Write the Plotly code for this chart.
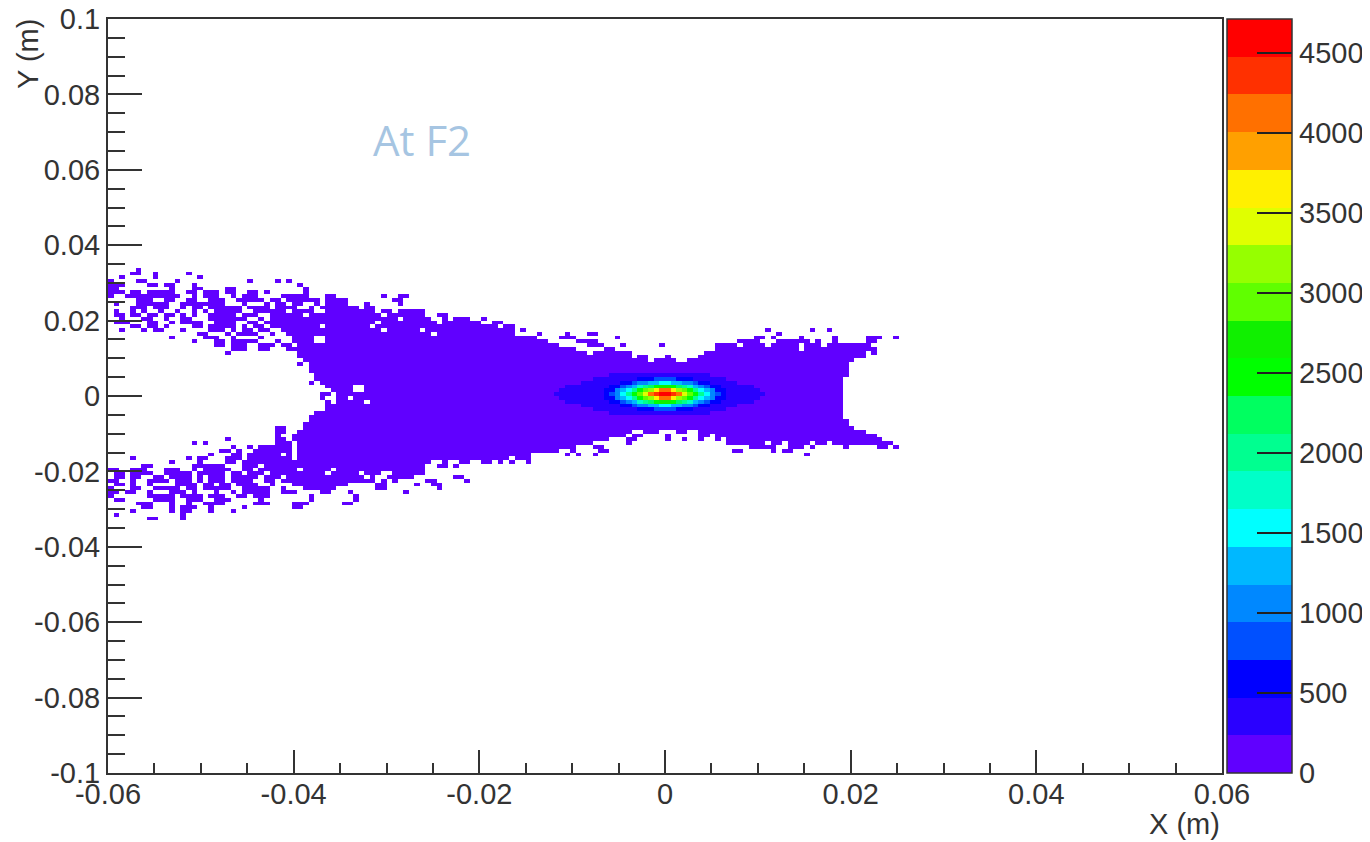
import numpy as np
import plotly.graph_objects as go

# Histogram binning (200 x 200 bins over the frame)
X_MIN, X_MAX, Y_MIN, Y_MAX = -0.06, 0.06, -0.1, 0.1
N_BINS = 200
Z_MAX = 4712
BASE_COUNT = 100

# Occupied bins: row (mm from centre) -> (first, last) x-bin spans
ROW_SPANS = {
    33: [(5, 5)],
    32: [(4, 5), (8, 8), (14, 14)],
    31: [(2, 2), (8, 8), (16, 16)],
    30: [(0, 0), (5, 6), (12, 12), (25, 25), (30, 30), (32, 32)],
    29: [(0, 2), (7, 8), (10, 11), (15, 15), (34, 34)],
    28: [(0, 1), (11, 11), (15, 16), (21, 22), (35, 35)],
    27: [(0, 2), (4, 5), (7, 11), (14, 15), (17, 19), (21, 22), (25, 26), (28, 28), (35, 35)],
    26: [(0, 0), (3, 12), (15, 15), (17, 19), (22, 22), (24, 26), (31, 35), (39, 40), (49, 49), (52, 53)],
    25: [(5, 7), (10, 11), (14, 15), (18, 20), (23, 27), (29, 30), (32, 37), (39, 42), (51, 52)],
    24: [(1, 1), (5, 10), (13, 20), (24, 24), (28, 28), (30, 31), (33, 34), (37, 37), (39, 42), (46, 46), (52, 52)],
    23: [(4, 6), (8, 10), (13, 13), (15, 16), (18, 23), (25, 28), (30, 33), (36, 36), (38, 44), (46, 47)],
    22: [(1, 1), (4, 4), (6, 6), (9, 9), (12, 12), (15, 15), (17, 17), (19, 23), (26, 31), (33, 33), (34, 36), (39, 47), (49, 50), (52, 56)],
    21: [(1, 2), (4, 5), (7, 8), (10, 11), (13, 13), (15, 15), (18, 22), (24, 26), (29, 34), (36, 48), (50, 56), (59, 60)],
    20: [(2, 2), (6, 7), (10, 10), (13, 14), (18, 23), (24, 24), (27, 27), (29, 46), (47, 51), (53, 57), (60, 60), (62, 64), (67, 67)],
    19: [(1, 3), (7, 8), (11, 11), (13, 16), (19, 22), (25, 26), (28, 47), (49, 58), (60, 66), (69, 70)],
    18: [(4, 5), (7, 8), (10, 10), (15, 16), (18, 22), (24, 24), (26, 27), (29, 37), (39, 46), (48, 69), (71, 72)],
    17: [(2, 2), (6, 6), (8, 9), (13, 13), (18, 20), (22, 22), (24, 25), (27, 28), (31, 48), (50, 55), (57, 72), (74, 74), (118, 118), (126, 126), (129, 129)],
    16: [(16, 17), (21, 21), (23, 26), (29, 29), (32, 57), (59, 72), (77, 77), (82, 82), (86, 87), (120, 120)],
    15: [(11, 11), (17, 19), (22, 22), (27, 27), (33, 36), (39, 76), (81, 83), (91, 91), (116, 117), (119, 119), (124, 124), (130, 130), (136, 138), (141, 141)],
    14: [(15, 15), (19, 20), (22, 26), (30, 30), (33, 36), (39, 78), (84, 87), (113, 116), (120, 121), (122, 123), (124, 125), (127, 127), (130, 130), (136, 137)],
    13: [(19, 20), (22, 24), (27, 29), (31, 32), (34, 80), (86, 88), (92, 92), (99, 99), (109, 112), (114, 117), (119, 123), (125, 127), (129, 136)],
    12: [(22, 24), (27, 28), (32, 33), (34, 83), (89, 90), (109, 123), (125, 136), (137, 137)],
    11: [(21, 21), (34, 85), (87, 93), (107, 135), (137, 137)],
    10: [(34, 93), (95, 96), (100, 100), (106, 135)],
    9: [(35, 96), (98, 101), (104, 133)],
    8: [(34, 34), (36, 132)],
    7: [(36, 132)],
    6: [(36, 132)],
    5: [(37, 132)],
    4: [(37, 131)],
    3: [(36, 36), (38, 131)],
    2: [(39, 43), (46, 131)],
    1: [(40, 43), (46, 131)],
    0: [(38, 39), (41, 131)],
    -1: [(38, 38), (41, 42), (44, 131)],
    -2: [(39, 39), (41, 45), (47, 131)],
    -3: [(39, 131)],
    -4: [(39, 131)],
    -5: [(37, 131)],
    -6: [(36, 131)],
    -7: [(36, 132)],
    -8: [(35, 132)],
    -9: [(30, 31), (35, 133)],
    -10: [(30, 31), (34, 93), (96, 98), (102, 103), (106, 135)],
    -11: [(30, 30), (33, 92), (94, 95), (100, 100), (106, 107), (109, 137)],
    -12: [(21, 21), (30, 31), (33, 89), (93, 94), (100, 100), (103, 103), (106, 106), (109, 109), (111, 138)],
    -13: [(15, 15), (17, 17), (30, 32), (34, 86), (93, 93), (111, 117), (119, 120), (122, 125), (127, 128), (130, 140)],
    -14: [(22, 22), (25, 25), (27, 32), (34, 83), (87, 88), (115, 119), (122, 124), (126, 126), (132, 132), (138, 139), (141, 141)],
    -15: [(20, 21), (23, 23), (26, 32), (34, 80), (83, 83), (88, 89), (112, 113), (119, 119), (121, 122)],
    -16: [(18, 18), (22, 23), (25, 30), (32, 32), (34, 75), (82, 82), (84, 84), (87, 87), (125, 125)],
    -17: [(4, 4), (14, 14), (16, 17), (21, 23), (25, 32), (34, 71), (73, 75)],
    -18: [(11, 11), (16, 16), (21, 22), (24, 57), (60, 60), (63, 64), (67, 68), (70, 70), (72, 72), (75, 75)],
    -19: [(6, 7), (15, 20), (24, 26), (28, 56), (59, 60), (62, 62)],
    -20: [(0, 1), (4, 6), (10, 12), (15, 15), (17, 21), (24, 25), (27, 33), (35, 39), (41, 56)],
    -21: [(1, 2), (4, 7), (10, 14), (16, 20), (22, 23), (25, 27), (29, 38), (40, 44), (46, 48), (51, 56)],
    -22: [(1, 2), (4, 5), (8, 9), (11, 14), (16, 16), (18, 20), (22, 26), (28, 30), (32, 45), (47, 47), (50, 54), (62, 63)],
    -23: [(0, 1), (4, 4), (7, 10), (12, 14), (16, 16), (18, 20), (22, 25), (28, 29), (31, 47), (49, 49), (51, 51), (57, 58), (64, 64)],
    -24: [(1, 2), (4, 4), (7, 7), (12, 15), (17, 18), (20, 21), (23, 26), (29, 29), (33, 42), (48, 49), (55, 55), (58, 59)],
    -25: [(0, 0), (4, 5), (8, 12), (14, 15), (17, 21), (24, 28), (31, 31), (35, 40), (48, 49), (59, 59)],
    -26: [(0, 1), (3, 4), (7, 7), (11, 13), (15, 15), (19, 19), (22, 22), (24, 28), (31, 33), (38, 39), (43, 43), (53, 53)],
    -27: [(0, 0), (7, 11), (13, 16), (18, 20), (23, 24), (26, 28), (36, 36), (44, 44)],
    -28: [(1, 2), (8, 11), (14, 16), (19, 21), (27, 27), (36, 36), (44, 44)],
    -29: [(5, 7), (11, 11), (14, 14), (17, 20), (26, 28), (33, 35), (42, 43)],
    -30: [(6, 7), (11, 11), (13, 15), (18, 18), (24, 24), (33, 34)],
    -31: [(4, 4), (11, 11), (13, 14), (18, 18), (22, 22)],
    -32: [(1, 1), (13, 13)],
    -33: [(7, 8), (13, 13)],
}

# Central peak: count level -> half-width (x bins) in rows 0, +-1, +-2 ...
CORE_LEVELS = {
    350: [18, 17, 16, 13, 11, 8],
    590: [11, 11, 10, 8, 5],
    825: [10, 9, 8, 6, 2],
    1060: [9, 9, 7, 5],
    1295: [8, 8, 6, 3],
    1530: [8, 7, 5, 1],
    1765: [7, 6, 5],
    2000: [7, 6, 4],
    2240: [6, 5, 3],
    2475: [6, 5, 2],
    2710: [5, 4, 1],
    2945: [5, 4],
    3180: [4, 3],
    3415: [4, 2],
    3650: [3, 2],
    3890: [3, 1],
    4120: [3, 1],
    4360: [2],
    4600: [1],
}
# Extra x bins on the left of a level (the outer halo leans left)
CORE_LEFT_EXTRA = {350: 2}

# Palette bands, bottom to top
BAND_COLORS = ["#6000ff", "#2a00ff", "#0000ff", "#0050ff", "#0088ff", "#00b8ff", "#00ffff",
               "#00ffc8", "#00ff90", "#00ff60", "#00ff00", "#10f000", "#60ff00", "#96ff00",
               "#e0ff00", "#fff000", "#ffa000", "#ff7000", "#ff3000", "#ff0000"]

X_TICKS = [-0.06, -0.04, -0.02, 0, 0.02, 0.04, 0.06]
X_LABELS = ["-0.06", "-0.04", "-0.02", "0", "0.02", "0.04", "0.06"]
X_MINOR = [-0.055, -0.05, -0.045, -0.035, -0.03, -0.025, -0.015, -0.01, -0.005,
           0.005, 0.01, 0.015, 0.025, 0.03, 0.035, 0.045, 0.05, 0.055]
Y_TICKS = [-0.1, -0.08, -0.06, -0.04, -0.02, 0, 0.02, 0.04, 0.06, 0.08, 0.1]
Y_LABELS = ["-0.1", "-0.08", "-0.06", "-0.04", "-0.02", "0", "0.02", "0.04", "0.06", "0.08", "0.1"]
Y_MINOR = [-0.095, -0.09, -0.085, -0.075, -0.07, -0.065, -0.055, -0.05, -0.045, -0.035, -0.03, -0.025,
           -0.015, -0.01, -0.005, 0.005, 0.01, 0.015, 0.025, 0.03, 0.035, 0.045, 0.05, 0.055,
           0.065, 0.07, 0.075, 0.085, 0.09, 0.095]
CB_TICKS = [0, 500, 1000, 1500, 2000, 2500, 3000, 3500, 4000, 4500]

z = np.full((N_BINS, N_BINS), np.nan)
for row, spans in ROW_SPANS.items():
    for a, b in spans:
        z[row + N_BINS // 2, a:b + 1] = BASE_COUNT
for level, widths in CORE_LEVELS.items():
    extra = CORE_LEFT_EXTRA.get(level, 0)
    for k, w in enumerate(widths):
        for sign in ([1, -1] if k else [1]):
            z[sign * k + N_BINS // 2, N_BINS // 2 - w - extra:N_BINS // 2 + w] = level

n = len(BAND_COLORS)
colorscale = []
for k, c in enumerate(BAND_COLORS):
    colorscale += [[k / n, c], [(k + 1) / n, c]]

dx = (X_MAX - X_MIN) / N_BINS
dy = (Y_MAX - Y_MIN) / N_BINS
# The page body adds 8 px around the figure
PAGE_PAD = 8
PLOT_W, PLOT_H = 1114, 754
PX_L, PX_B = 108, 773
FONT = "Liberation Sans"
INK = "#333333"
TICK_SIZE = 29

fig = go.Figure(go.Heatmap(
    z=z, x0=X_MIN + dx / 2, dx=dx, y0=Y_MIN + dy / 2, dy=dy,
    zmin=0, zmax=Z_MAX, colorscale=colorscale, hoverongaps=False,
    colorbar=dict(
        x=(1227 - PX_L) / PLOT_W, xanchor="left", xpad=0, ypad=0,
        y=0.5, yanchor="middle", len=1, lenmode="fraction", thickness=65, thicknessmode="pixels",
        outlinecolor=INK, outlinewidth=1.5,
        tickmode="array", tickvals=CB_TICKS, ticktext=[str(v) for v in CB_TICKS],
        ticks="inside", ticklen=35, tickwidth=2, tickcolor="#222222",
        tickfont=dict(family=FONT, size=TICK_SIZE, color=INK),
    ),
))

fig.update_xaxes(
    range=[X_MIN, X_MAX], tickmode="array", tickvals=X_TICKS, ticktext=X_LABELS,
    ticks="inside", ticklen=23, tickwidth=2, tickcolor=INK, ticklabelstandoff=-6,
    minor=dict(tickmode="array", tickvals=X_MINOR, ticks="inside", ticklen=10, tickwidth=2, tickcolor=INK),
    showline=True, linecolor=INK, linewidth=2, mirror=True, showgrid=False, zeroline=False,
    tickfont=dict(family=FONT, size=TICK_SIZE, color=INK),
)
fig.update_yaxes(
    range=[Y_MIN, Y_MAX], tickmode="array", tickvals=Y_TICKS, ticktext=Y_LABELS,
    ticks="inside", ticklen=34, tickwidth=2, tickcolor=INK, ticklabeloverflow="allow",
    minor=dict(tickmode="array", tickvals=Y_MINOR, ticks="inside", ticklen=17, tickwidth=2, tickcolor=INK),
    showline=True, linecolor=INK, linewidth=2, mirror=True, showgrid=False, zeroline=False,
    tickfont=dict(family=FONT, size=TICK_SIZE, color=INK),
)

fig.update_layout(
    width=1370 - PAGE_PAD, height=842 - PAGE_PAD,
    margin=dict(l=PX_L - PAGE_PAD, r=1370 - PX_L - PLOT_W, t=PX_B - PLOT_H - PAGE_PAD,
                b=842 - PX_B, autoexpand=False),
    paper_bgcolor="white", plot_bgcolor="white",
    annotations=[
        dict(text="At F2", xref="paper", yref="paper", x=(371 - PX_L) / PLOT_W, y=(PX_B - 140) / PLOT_H,
             xanchor="left", yanchor="middle", showarrow=False,
             font=dict(family="Open Sans", size=42, color="#a6c5e2")),
        dict(text="X (m)", xref="paper", yref="paper", x=1.0, y=-(824 - PX_B) / PLOT_H,
             xanchor="right", yanchor="middle", showarrow=False,
             font=dict(family=FONT, size=TICK_SIZE, color=INK)),
        dict(text="Y (m)", xref="paper", yref="paper", x=-(PX_L - 28) / PLOT_W, y=(PX_B - 54) / PLOT_H,
             xanchor="center", yanchor="middle", textangle=-90, showarrow=False,
             font=dict(family=FONT, size=TICK_SIZE, color=INK)),
    ],
)

fig.write_html("out.html")
